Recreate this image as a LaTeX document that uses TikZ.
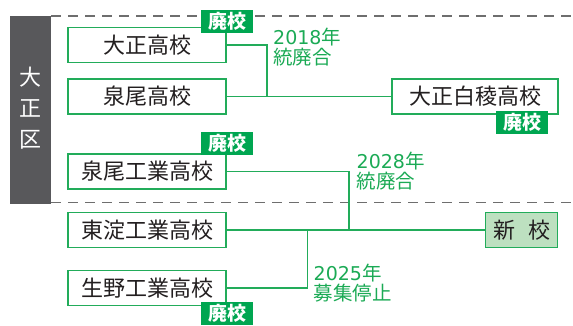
\documentclass[tikz,border=0pt]{standalone}
\usepackage{fontspec}
\newfontfamily\jp{Noto Sans CJK JP}
\newfontfamily\dv{DejaVu Sans}
\definecolor{grn}{HTML}{22AC5A}
\definecolor{hk}{HTML}{00A651}
\definecolor{gtxt}{HTML}{1BAA55}
\definecolor{txt}{HTML}{231F20}
\definecolor{gbox}{HTML}{58585B}
\definecolor{dash}{HTML}{6E6E6E}
\definecolor{newfill}{HTML}{BDE0C0}
\tikzset{
  school/.style={draw=grn, line width=1.2pt, fill=white, minimum width=158pt, minimum height=35pt, inner sep=0pt, text=txt, font=\jp\fontsize{22}{22}\selectfont},
  haiko/.style={fill=hk, text=white, minimum width=52pt, minimum height=23pt, inner sep=0pt, font=\jp\bfseries\fontsize{19}{19}\selectfont},
  note/.style={text=gtxt, align=left, inner sep=0pt, anchor=north west, font=\jp\fontsize{19.5}{20}\selectfont},
  conn/.style={draw=grn, line width=1.3pt},
  sep/.style={draw=dash, line width=1.8pt, dash pattern=on 10pt off 7pt}
}
\begin{document}
\begin{tikzpicture}[x=1pt,y=-1pt]
\useasboundingbox (0,0) rectangle (573,325);
% ward box
\fill[gbox] (10,16) rectangle (51,203.5);
\node[text=white, align=center, inner sep=0pt, font=\jp\fontsize{22}{31}\selectfont] (ward) at (30.5,108) {大\\正\\区};
% separators
\coordinate (s1a) at (51,16);
\coordinate (s1b) at (573,16);
\coordinate (s2a) at (51,202.5);
\coordinate (s2b) at (573,202.5);
\draw[sep] (s1a) -- (s1b);
\draw[sep] (s2a) -- (s2b);
% schools
\node[school] (taisho) at (147,45) {大正高校};
\node[school] (izumio) at (147,96.5) {泉尾高校};
\node[school] (izumiok) at (147,171.5) {泉尾工業高校};
\node[school] (higashi) at (147,230) {東淀工業高校};
\node[school] (ikuno) at (147,288) {生野工業高校};
\node[school, minimum width=166pt] (hakuryo) at (475,96.5) {大正白稜高校};
\node[school, fill=newfill, minimum width=72pt] (shinko) at (521.7,230) {新\hspace{13pt}校};
% junctions
\coordinate (j1) at (267,45);
\coordinate (j1b) at (267,96.5);
\coordinate (j2) at (349,171.5);
\coordinate (j2b) at (349,230);
\coordinate (j3) at (307.5,230);
\coordinate (j3b) at (307.5,288);
\draw[conn] (taisho.east) -- (j1) -- (j1b);
\draw[conn] (izumio.east) -- (hakuryo.west);
\draw[conn] (izumiok.east) -- (j2) -- (j2b);
\draw[conn] (higashi.east) -- (shinko.west);
\draw[conn] (ikuno.east) -- (j3b) -- (j3);
% notes
\node[note] (n2018) at (273,27.5) {{\dv\fontsize{19}{20}\selectfont 2018}年\\統廃合};
\node[note] (n2028) at (356.5,151.5) {{\dv\fontsize{19}{20}\selectfont 2028}年\\統廃合};
\node[note] (n2025) at (313.5,263.5) {{\dv\fontsize{19}{20}\selectfont 2025}年\\募集停止};
% closure labels
\node[haiko] (h1) at (227,21.5) {廃校};
\node[haiko] (h2) at (227,143.5) {廃校};
\node[haiko] (h3) at (522,122) {廃校};
\node[haiko] (h4) at (227,313.5) {廃校};
\end{tikzpicture}
\end{document}
